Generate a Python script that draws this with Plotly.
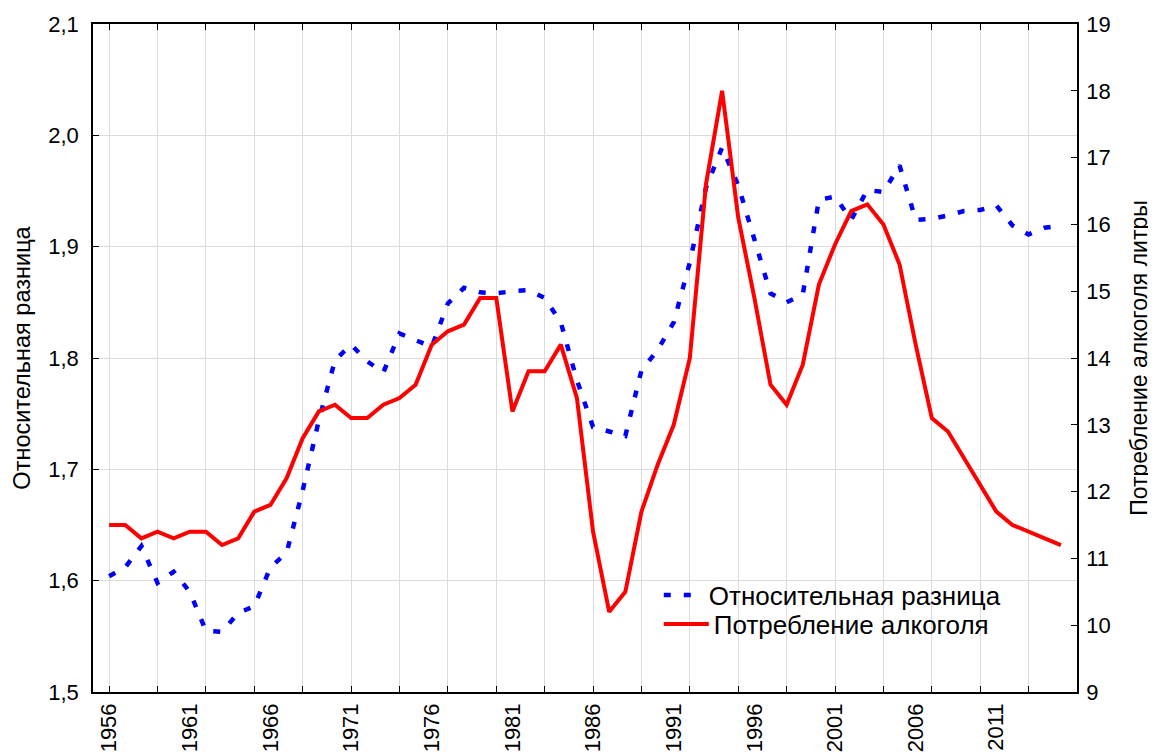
import plotly.graph_objects as go

years = list(range(1956, 2016))

rel_diff = [1.604, 1.612, 1.631, 1.598, 1.608, 1.590, 1.555, 1.554, 1.571, 1.577,
            1.612, 1.625, 1.681, 1.744, 1.798, 1.812, 1.797, 1.787, 1.822, 1.816,
            1.810, 1.849, 1.863, 1.859, 1.858, 1.860, 1.861, 1.854, 1.832, 1.780,
            1.738, 1.734, 1.730, 1.789, 1.807, 1.832, 1.886, 1.953, 1.989, 1.955,
            1.906, 1.858, 1.850, 1.857, 1.942, 1.945, 1.924, 1.951, 1.949, 1.973,
            1.924, 1.925, 1.928, 1.932, 1.933, 1.937, 1.919, 1.911, 1.917, 1.919]

alcohol = [11.5, 11.5, 11.3, 11.4, 11.3, 11.4, 11.4, 11.2, 11.3, 11.7,
           11.8, 12.2, 12.8, 13.2, 13.3, 13.1, 13.1, 13.3, 13.4, 13.6,
           14.2, 14.4, 14.5, 14.9, 14.9, 13.2, 13.8, 13.8, 14.2, 13.4,
           11.4, 10.2, 10.5, 11.7, 12.4, 13.0, 14.0, 16.6, 18.0, 16.1,
           14.9, 13.6, 13.3, 13.9, 15.1, 15.7, 16.2, 16.3, 16.0, 15.4,
           14.2, 13.1, 12.9, 12.5, 12.1, 11.7, 11.5, 11.4, 11.3, 11.2]

label_years = list(range(1956, 2016, 5))
label_text = [str(y) for y in label_years]
grid_years = list(range(1956, 2017, 3))

name_rel = "Относительная разница"
name_alc = "Потребление алкоголя"
title_left = "Относительная разница"
title_right = "Потребление алкоголя литры"

FONT = "Liberation Sans, Arial, sans-serif"

fig = go.Figure()
fig.add_trace(go.Scatter(
    x=years, y=rel_diff, name=name_rel, mode="lines",
    line=dict(color="#0000FF", width=4.5, dash="7px,13px"),
    xaxis="x", yaxis="y", legend="legend"))
fig.add_trace(go.Scatter(
    x=years, y=alcohol, name=name_alc, mode="lines",
    line=dict(color="#FF0000", width=4),
    xaxis="x", yaxis="y2", legend="legend2"))
# helper trace so that the label axis is rendered
fig.add_trace(go.Scatter(
    x=[years[0]], y=[None], xaxis="x2", yaxis="y",
    showlegend=False, hoverinfo="skip", mode="lines"))

legend_common = dict(
    xanchor="left", yanchor="top",
    bgcolor="rgba(0,0,0,0)", borderwidth=0,
    font=dict(family=FONT, size=26, color="black"))

fig.update_layout(
    width=1156, height=745,
    margin=dict(l=85, r=87, t=16, b=61, autoexpand=False),
    paper_bgcolor="white", plot_bgcolor="white",
    font=dict(family=FONT, size=22, color="black"),
    separators=", ",
    showlegend=True,
    legend=dict(x=0.575, y=0.1804, itemwidth=40, **legend_common),
    legend2=dict(x=0.575, y=0.137, itemwidth=45, **legend_common),
    xaxis=dict(
        range=[1955, 2016], tickmode="array", tickvals=grid_years,
        showticklabels=False, showgrid=True, gridcolor="#dcdcdc", gridwidth=1,
        ticks="inside", ticklen=6, tickcolor="black", tickwidth=1,
        showline=True, linecolor="black", linewidth=1.5, mirror="ticks",
        zeroline=False, automargin=False),
    xaxis2=dict(
        range=[1955, 2016], overlaying="x", anchor="y", side="bottom",
        tickmode="array", tickvals=label_years, ticktext=label_text,
        tickangle=-90, showgrid=False, ticks="", showline=False,
        zeroline=False, automargin=False, ticklabelstandoff=6,
        tickfont=dict(family=FONT, size=22, color="black")),
    yaxis=dict(
        range=[1.5, 2.1], dtick=0.1, tick0=1.5, tickformat=".1f",
        showgrid=True, gridcolor="#dcdcdc", gridwidth=1,
        ticks="inside", ticklen=6, tickcolor="black", tickwidth=1,
        showline=True, linecolor="black", linewidth=1.5, mirror=False,
        zeroline=False, automargin=False, ticklabelstandoff=8,
        title=dict(text=title_left, font=dict(family=FONT, size=23.5, color="black"), standoff=11),
        tickfont=dict(family=FONT, size=22, color="black")),
    yaxis2=dict(
        range=[9, 19], dtick=1, tick0=9, overlaying="y", side="right", anchor="x",
        showgrid=False, ticks="inside", ticklen=6, tickcolor="black", tickwidth=1,
        showline=True, linecolor="black", linewidth=1.5,
        zeroline=False, automargin=False, ticklabelstandoff=3,
        title=dict(text=title_right, font=dict(family=FONT, size=23, color="black"), standoff=21),
        tickfont=dict(family=FONT, size=22, color="black")),
)

fig.write_html("out.html")
